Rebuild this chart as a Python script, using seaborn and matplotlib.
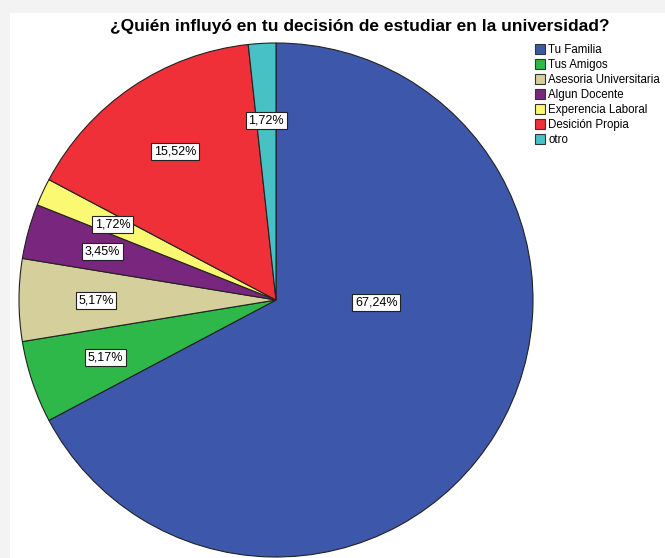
import matplotlib
matplotlib.use("Agg")
import matplotlib.pyplot as plt
import seaborn as sns
from matplotlib.patches import Rectangle

sns.set_theme(style="white")
plt.rcParams['font.family'] = ['Liberation Sans', 'DejaVu Sans']
plt.rcParams['text.color'] = 'black'

categories = ["Tu Familia", "Tus Amigos", "Asesoria Universitaria", "Algun Docente",
              "Experencia Laboral", "Desición Propia", "otro"]
counts = [39, 3, 3, 2, 1, 9, 1]  # 67,24% 5,17% 5,17% 3,45% 1,72% 15,52% 1,72% of 58
colors = ["#3d57aa", "#2fb84a", "#d5cf9b", "#79267e", "#fbf871", "#ef3039", "#48c1c5"]
title = "¿Quién influyó en tu decisión de estudiar en la universidad?"

W, H = 665, 558
fig = plt.figure(figsize=(W / 100, H / 100), dpi=100)
fig.patch.set_facecolor("#f3f3f3")
fig.patches.append(Rectangle((10 / W, 0), 1, (H - 13) / H, transform=fig.transFigure,
                             facecolor="white", edgecolor="none", zorder=-10))

cx, cy, r = 276, 300, 257
ax = fig.add_axes([(cx - r) / W, (H - cy - r) / H, 2 * r / W, 2 * r / H])
ax.set_facecolor("none")
ax.set_zorder(5)

wedges, texts, autotexts = ax.pie(
    counts, colors=colors, startangle=90, counterclock=False,
    autopct=lambda p: f"{p:.2f}%".replace(".", ","), pctdistance=0.7,
    wedgeprops=dict(edgecolor="#222222", linewidth=0.8),
    textprops=dict(fontsize=9, color="black"),
)
for w in wedges:
    w.set_clip_on(False)
for t in autotexts:
    t.set_bbox(dict(boxstyle="square,pad=0.2", facecolor="white", edgecolor="#222222", linewidth=0.8))
# SPSS places the largest slice's label near the centre-right
autotexts[0].set_position((0.39, -0.01))

ax.set_xlim(-1, 1)
ax.set_ylim(-1, 1)
ax.set_aspect("equal")
ax.axis("off")

fig.text(360 / W, 1 - 27 / H, title, ha="center", va="center", fontsize=12.5,
         fontweight="bold", color="black")

handles = [Rectangle((0, 0), 1, 1, facecolor=c, edgecolor="#333333", linewidth=0.8) for c in colors]
leg = fig.legend(handles, categories, loc="upper left", bbox_to_anchor=(535 / W, 1 - 44 / H),
                 frameon=False, fontsize=8.3, handlelength=0.9, handleheight=0.95,
                 handletextpad=0.25, labelspacing=0.26, borderaxespad=0, borderpad=0)
for t in leg.get_texts():
    t.set_color("black")

fig.savefig("out.png", dpi=100)
